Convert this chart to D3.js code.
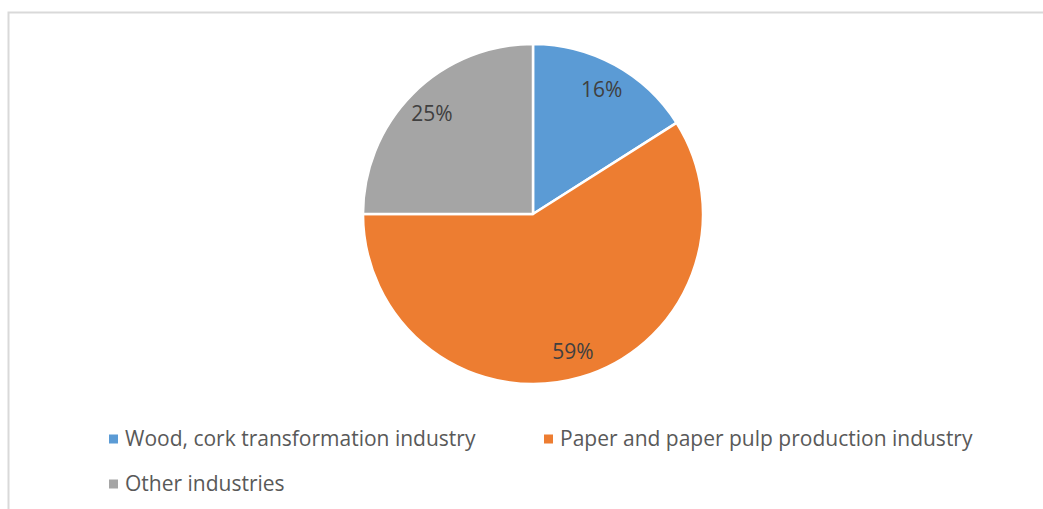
<!DOCTYPE html>
<html>
<head>
<meta charset="utf-8">
<script src="https://cdn.jsdelivr.net/npm/d3@7"></script>
<style>
  html, body { margin: 0; padding: 0; background: #ffffff; }
  svg { display: block; }
  text { font-family: "Open Sans", "Noto Sans", sans-serif; fill: #595959; }
</style>
</head>
<body>
<svg id="chart" width="1043" height="509"></svg>
<script>
// Share of each industry (percent)
const categories = [
  "Wood, cork transformation industry",
  "Paper and paper pulp production industry",
  "Other industries"
];
const values = [16, 59, 25];
const labels = ["16%", "59%", "25%"];
const colors = ["#5B9BD5", "#ED7D31", "#A5A5A5"];

const W = 1043, H = 509;
const svg = d3.select("#chart");

// chart frame (top and left edges)
svg.append("path")
  .attr("d", `M8.5,${H} V12.5 H${W}`)
  .attr("fill", "none")
  .attr("stroke", "#d9d9d9")
  .attr("stroke-width", 2);

const cx = 533, cy = 214, r = 170;

const pie = d3.pie().sort(null).value(d => d)(values);
const arc = d3.arc().innerRadius(0).outerRadius(r);
const labelArc = d3.arc().innerRadius(r * 0.84).outerRadius(r * 0.84);

const g = svg.append("g").attr("transform", `translate(${cx},${cy})`);

g.selectAll("path.slice")
  .data(pie)
  .join("path")
  .attr("class", "slice")
  .attr("d", arc)
  .attr("fill", (d, i) => colors[i])
  .attr("stroke", "#ffffff")
  .attr("stroke-width", 2.5)
  .attr("stroke-linejoin", "round");

g.selectAll("text.pct")
  .data(pie)
  .join("text")
  .attr("class", "pct")
  .attr("transform", d => `translate(${labelArc.centroid(d)})`)
  .attr("text-anchor", "middle")
  .attr("dominant-baseline", "central")
  .style("font-size", "21px")
  .style("fill", "#404040")
  .text((d, i) => labels[i]);

// legend
const legendPos = [
  { x: 109, y: 439 },
  { x: 544, y: 439 },
  { x: 109, y: 484 }
];
const leg = svg.selectAll("g.legend")
  .data(categories)
  .join("g")
  .attr("class", "legend")
  .attr("transform", (d, i) => `translate(${legendPos[i].x},${legendPos[i].y})`);

leg.append("rect")
  .attr("x", 0).attr("y", -4.5)
  .attr("width", 9).attr("height", 9)
  .attr("fill", (d, i) => colors[i]);

leg.append("text")
  .attr("x", 16)
  .attr("dy", "0.35em")
  .style("font-size", "21px")
  .text(d => d);
</script>
</body>
</html>
